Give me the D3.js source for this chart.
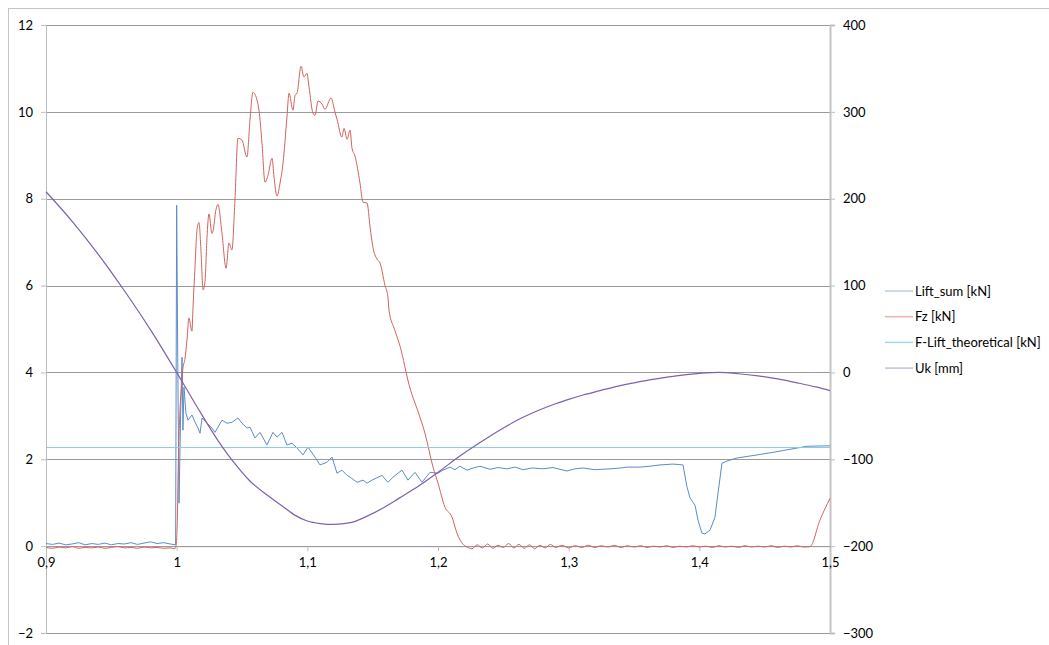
<!DOCTYPE html>
<html><head><meta charset="utf-8">
<script src="https://cdn.jsdelivr.net/npm/d3@7"></script>
<style>
html,body{margin:0;padding:0;background:#fff;}
svg text{font-family:Lato,"Liberation Sans",sans-serif;fill:#000;}
</style></head>
<body>
<svg id="c" width="1049" height="645"></svg>
<script>
// ---- data ----
const xTicks = [0.9, 1.0, 1.1, 1.2, 1.3, 1.4, 1.5];
const leftTicks = [-2, 0, 2, 4, 6, 8, 10, 12];
const rightTicks = [-300, -200, -100, 0, 100, 200, 300, 400];
const seriesNames = ["Lift_sum [kN]", "Fz [kN]", "F-Lift_theoretical [kN]", "Uk [mm]"];
const seriesColors = ["#5b8cc8", "#d3625e", "#86cbe8", "#7f60ab"];
const legendColors = ["#b8cde6", "#eab1af", "#a3d8ea", "#c9bcd9"];

const liftSum = [
 [0.900,0.06],[0.905,0.04],[0.910,0.07],[0.915,0.03],[0.920,0.05],[0.925,0.08],[0.930,0.03],
 [0.935,0.06],[0.940,0.04],[0.945,0.07],[0.950,0.03],[0.955,0.06],[0.960,0.05],[0.965,0.08],
 [0.970,0.04],[0.975,0.07],[0.980,0.10],[0.985,0.06],[0.990,0.08],[0.995,0.05],[0.9992,0.03],
 [1.0000,7.85],[1.0008,4.4],[1.0018,0.99],[1.0030,3.0],[1.0041,4.35],[1.0048,2.67],[1.0056,3.66],
 [1.0071,3.06],[1.0087,2.90],[1.0117,3.02],[1.0140,2.86],[1.0163,2.72],[1.0179,2.60],[1.0194,2.95],
 [1.0232,2.83],[1.0270,2.72],[1.0293,2.62],[1.0347,2.90],[1.0385,2.83],[1.0423,2.85],[1.0469,2.95],
 [1.0500,2.83],[1.0538,2.72],[1.0561,2.74],[1.0599,2.49],[1.0638,2.62],[1.0691,2.33],[1.0737,2.62],
 [1.0768,2.51],[1.0806,2.62],[1.0844,2.33],[1.0883,2.37],[1.0921,2.26],[1.0967,2.10],[1.1005,2.28],
 [1.1059,2.05],[1.1097,1.87],[1.1150,1.93],[1.1189,2.05],[1.1227,1.68],[1.1265,1.75],[1.1304,1.63],
 [1.1327,1.59],[1.1380,1.47],[1.1426,1.52],[1.1457,1.45],[1.1495,1.52],[1.1571,1.63],[1.1617,1.47],
 [1.1656,1.59],[1.1724,1.75],[1.1770,1.52],[1.1824,1.70],[1.1877,1.47],[1.1939,1.70],[1.2000,1.68],
 [1.2038,1.75],[1.2092,1.82],[1.2130,1.76],[1.2168,1.84],[1.2222,1.75],[1.2270,1.80],[1.2321,1.84],
 [1.2398,1.77],[1.2460,1.81],[1.2528,1.78],[1.2590,1.82],[1.2650,1.76],[1.2720,1.80],[1.2803,1.78],
 [1.2880,1.81],[1.2987,1.73],[1.3050,1.78],[1.3110,1.80],[1.3200,1.76],[1.3316,1.78],[1.3400,1.80],
 [1.3446,1.82],[1.3546,1.82],[1.3622,1.84],[1.3699,1.87],[1.3798,1.89],[1.3875,1.87],[1.3905,1.37],
 [1.3929,1.11],[1.3967,0.94],[1.3990,0.60],[1.4020,0.30],[1.4043,0.28],[1.4082,0.37],[1.4120,0.67],
 [1.4143,1.22],[1.4173,1.91],[1.4212,1.96],[1.4288,2.03],[1.4441,2.10],[1.4564,2.16],[1.4694,2.23],
 [1.4824,2.30],[1.5000,2.31]
];

const fz = [
 [0.900,-0.03],[0.905,-0.05],[0.910,-0.02],[0.915,-0.04],[0.920,-0.01],[0.925,-0.05],[0.930,-0.03],
 [0.935,-0.04],[0.940,-0.02],[0.945,-0.05],[0.950,-0.03],[0.955,-0.01],[0.960,-0.04],[0.965,-0.03],
 [0.970,-0.05],[0.975,-0.02],[0.980,-0.04],[0.985,-0.03],[0.990,-0.05],[0.995,-0.04],[0.9985,-0.06],
 [0.9995,0.0],[1.0005,0.6],[1.0012,1.8],[1.0025,3.1],[1.0041,3.8],[1.0048,4.1],[1.0063,4.3],
 [1.0079,4.75],[1.0094,5.25],[1.0117,4.95],[1.0125,5.5],[1.0140,6.4],[1.0156,7.3],[1.0171,7.45],
 [1.0186,6.8],[1.0202,5.9],[1.0217,6.1],[1.0232,7.1],[1.0247,7.65],[1.0270,7.2],[1.0278,7.25],
 [1.0301,7.75],[1.0316,7.87],[1.0347,7.2],[1.0378,6.4],[1.0400,6.98],[1.0423,6.82],[1.0446,7.97],
 [1.0469,9.39],[1.0500,9.35],[1.0538,8.96],[1.0561,9.81],[1.0584,10.45],[1.0615,10.27],[1.0630,10.04],
 [1.0653,9.28],[1.0676,8.38],[1.0699,8.54],[1.0730,8.93],[1.0745,8.50],[1.0768,8.06],[1.0791,8.36],
 [1.0814,8.82],[1.0844,9.88],[1.0860,10.43],[1.0890,10.04],[1.0906,10.38],[1.0921,10.43],[1.0952,11.05],
 [1.0974,10.80],[1.0997,10.89],[1.1013,10.57],[1.1043,9.97],[1.1059,9.92],[1.1082,10.25],[1.1112,10.18],
 [1.1135,10.06],[1.1181,10.32],[1.1212,9.99],[1.1227,9.83],[1.1265,9.42],[1.1281,9.62],[1.1304,9.37],
 [1.1327,9.58],[1.1342,9.16],[1.1365,8.98],[1.1403,8.36],[1.1426,7.92],[1.1457,7.90],[1.1480,7.35],
 [1.1502,6.88],[1.1533,6.61],[1.1556,6.52],[1.1594,6.01],[1.1617,5.73],[1.1625,5.43],[1.1670,4.97],
 [1.1710,4.60],[1.1780,3.70],[1.1862,2.97],[1.1900,2.60],[1.1962,1.82],[1.2000,1.45],[1.2053,0.90],
 [1.2107,0.67],[1.2145,0.30],[1.2184,0.07],[1.2222,-0.02],
 [1.226,-0.06],[1.230,0.03],[1.234,-0.04],[1.238,0.05],[1.242,-0.05],[1.246,0.02],[1.250,-0.03],
 [1.254,0.06],[1.258,-0.04],[1.262,0.04],[1.266,-0.05],[1.270,0.03],[1.274,-0.06],[1.278,0.02],
 [1.282,-0.04],[1.286,0.04],[1.290,-0.03],[1.295,0.02],[1.300,-0.04],[1.305,0.01],[1.310,-0.03],
 [1.315,0.02],[1.320,-0.03],[1.325,0.01],[1.330,-0.02],[1.335,0.02],[1.340,-0.03],[1.345,0.01],
 [1.350,-0.02],[1.355,0.01],[1.360,-0.03],[1.365,0.00],[1.370,-0.02],[1.375,0.01],[1.380,-0.03],
 [1.385,0.00],[1.390,-0.02],[1.395,0.01],[1.400,-0.02],[1.405,0.00],[1.410,-0.03],[1.415,0.01],
 [1.420,-0.02],[1.425,0.00],[1.430,-0.03],[1.435,0.01],[1.440,-0.02],[1.445,0.00],[1.450,-0.02],
 [1.455,0.01],[1.460,-0.03],[1.465,0.00],[1.470,-0.02],[1.475,0.01],[1.480,-0.02],[1.4847,-0.01],
 [1.4923,0.60],[1.5000,1.10]
];

const fLiftTheoretical = [[0.9,2.27],[1.5,2.27]];

const uk = [
 [0.900,208],[0.920,174],[0.940,136],[0.960,94],[0.980,49],[1.000,0],[1.015,-38],[1.031,-77],
 [1.045,-106],[1.056,-125],[1.070,-142],[1.081,-154],[1.090,-164],[1.100,-171],[1.110,-174],
 [1.120,-175],[1.133,-173],[1.145,-166],[1.158,-156],[1.170,-145],[1.186,-130],[1.200,-115],
 [1.217,-96],[1.234,-79],[1.250,-64],[1.262,-54],[1.278,-43],[1.290,-36],[1.300,-31],[1.311,-26],
 [1.324,-21],[1.337,-16],[1.350,-12],[1.362,-8.5],[1.375,-5.5],[1.390,-2.5],[1.405,-0.5],[1.415,0],
 [1.430,-1.5],[1.445,-4],[1.460,-7.5],[1.475,-12],[1.490,-17],[1.500,-21]
];

// ---- drawing ----
const svg = d3.select("#c");
const x = d3.scaleLinear().domain([0.9, 1.5]).range([46, 830]);
const yL = d3.scaleLinear().domain([-2, 12]).range([633, 25]);
const yR = d3.scaleLinear().domain([-300, 400]).range([633, 25]);
const fmt = v => d3.format("~g")(+v.toFixed(2)).replace(".", ",");

// outer border
svg.append("rect").attr("x", 8.5).attr("y", 8.5).attr("width", 1100).attr("height", 700)
  .attr("fill", "none").attr("stroke", "#c4c4c4").attr("stroke-width", 1);

// gridlines
svg.append("g").selectAll("line").data(leftTicks).join("line")
  .attr("x1", 46).attr("x2", 830)
  .attr("y1", d => Math.round(yL(d)) + 0.5).attr("y2", d => Math.round(yL(d)) + 0.5)
  .attr("stroke", "#9a9a9a").attr("stroke-width", 1);

// left axis
const gL = svg.append("g").attr("transform", "translate(46,0)")
  .call(d3.axisLeft(yL).tickValues(leftTicks).tickSize(5).tickPadding(8).tickFormat(d => fmt(d)));
gL.select(".domain").attr("stroke", "#bdbdbd");
gL.selectAll(".tick line").attr("stroke", "#bdbdbd");
gL.selectAll("text").style("font-size", "13px").attr("fill", "#000");

// right axis
const gR = svg.append("g").attr("transform", "translate(830,0)")
  .call(d3.axisRight(yR).tickValues(rightTicks).tickSize(5).tickPadding(8).tickFormat(d => fmt(d)));
gR.select(".domain").attr("stroke", "#c4c4c4").attr("stroke-width", 2);
gR.selectAll(".tick line").attr("stroke", "#bdbdbd");
gR.selectAll("text").style("font-size", "13px").attr("fill", "#000");

// x axis at y=0
const gX = svg.append("g").attr("transform", `translate(0,${yL(0)})`)
  .call(d3.axisBottom(x).tickValues(xTicks).tickSize(5).tickPadding(7).tickFormat(d => fmt(d)));
gX.select(".domain").attr("stroke", "#9a9a9a");
gX.selectAll(".tick line").attr("stroke", "#bdbdbd");
gX.selectAll("text").style("font-size", "13px").attr("fill", "#000");

// series
const lineL = d3.line().x(d => x(d[0])).y(d => yL(d[1]));
const lineLs = d3.line().x(d => x(d[0])).y(d => yL(d[1])).curve(d3.curveMonotoneX);
const lineR = d3.line().x(d => x(d[0])).y(d => yR(d[1])).curve(d3.curveMonotoneX);
const plot = svg.append("g");
plot.append("path").datum(liftSum).attr("d", lineL).attr("fill", "none")
  .attr("stroke", seriesColors[0]).attr("stroke-width", 1).attr("stroke-linejoin", "round");
plot.append("path").datum(fz).attr("d", lineLs).attr("fill", "none")
  .attr("stroke", seriesColors[1]).attr("stroke-width", 1).attr("stroke-linejoin", "round");
plot.append("path").datum(fLiftTheoretical).attr("d", lineL).attr("fill", "none")
  .attr("stroke", seriesColors[2]).attr("stroke-width", 1);
plot.append("path").datum(uk).attr("d", lineR).attr("fill", "none")
  .attr("stroke", seriesColors[3]).attr("stroke-width", 1.2).attr("stroke-linejoin", "round");

// legend
const lg = svg.append("g");
seriesNames.forEach((n, i) => {
  const yy = 291 + i * 25.7;
  lg.append("line").attr("x1", 885).attr("x2", 913).attr("y1", yy).attr("y2", yy)
    .attr("stroke", legendColors[i]).attr("stroke-width", 1.5);
  lg.append("text").attr("x", 915).attr("y", yy).attr("dy", "0.35em")
    .style("font-size", "13px").text(n);
});
</script>
</body></html>
